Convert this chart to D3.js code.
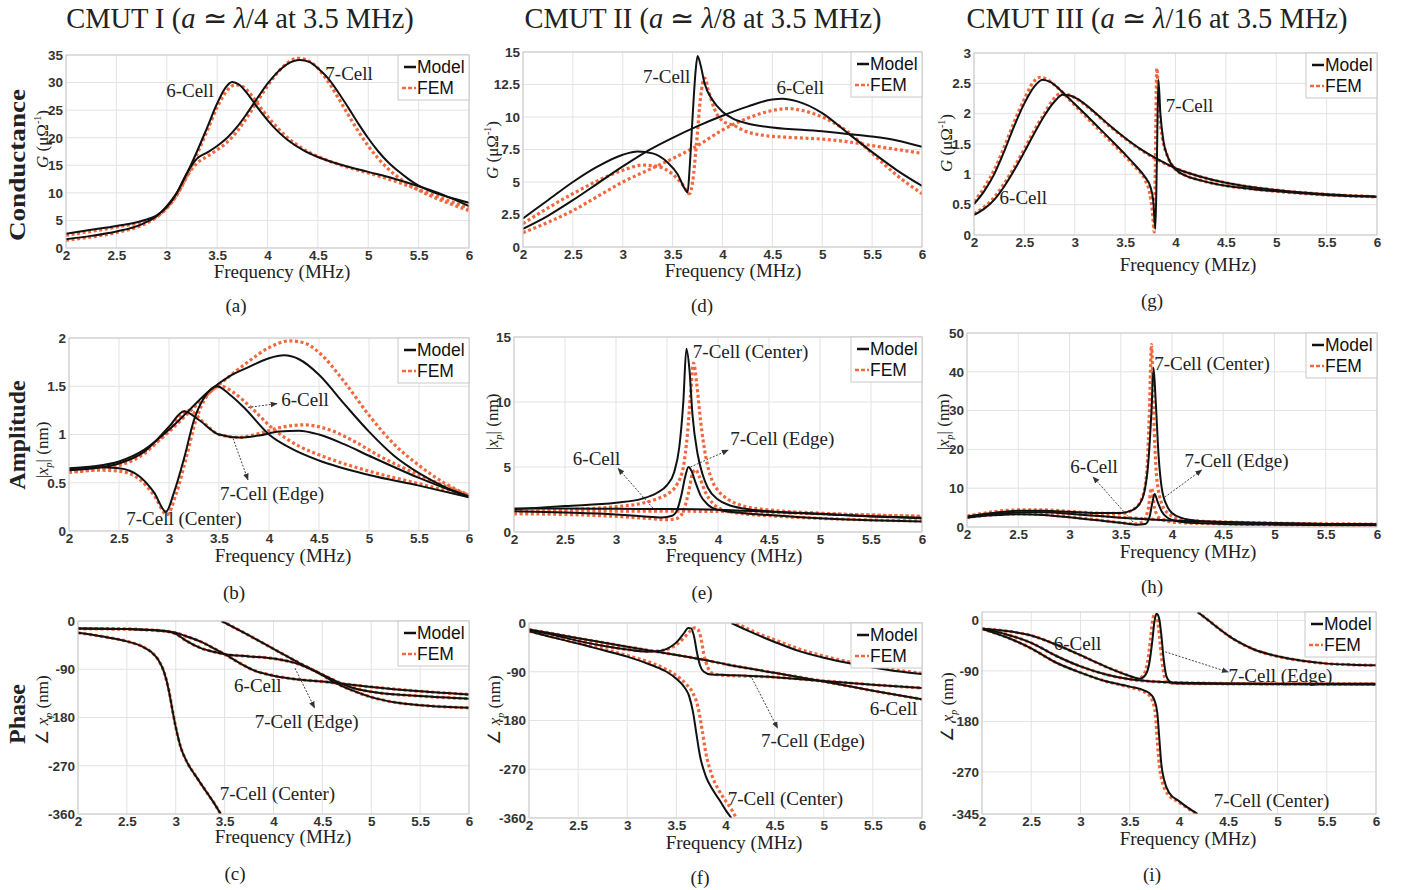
<!DOCTYPE html>
<html>
<head>
<meta charset="utf-8">
<script src="https://cdn.jsdelivr.net/npm/d3@7"></script>
<style>
  body { margin: 0; background: #fff; }
  svg text { font-family: "Liberation Serif", "Times New Roman", serif; }
  .sans { font-family: "Liberation Sans", Arial, sans-serif !important; }
</style>
</head>
<body>
<div id="fig"></div>
<script>
// ---------- data: [frequency (MHz), value] ----------
const freqTicks = [2, 2.5, 3, 3.5, 4, 4.5, 5, 5.5, 6];

// (a) conductance, CMUT I
const gTicksA = [0, 5, 10, 15, 20, 25, 30, 35];
const a_mod6 = [[2,1.6],[2.25,2.2],[2.5,3.0],[2.75,4.3],[2.9,5.8],[3.0,7.6],[3.1,10],[3.2,13.5],[3.3,17.5],[3.4,21.8],[3.5,26.2],[3.58,29],[3.65,30.1],[3.72,29.6],[3.8,28],[3.9,25.5],[4.0,23.2],[4.1,21.2],[4.2,19.6],[4.35,17.8],[4.5,16.5],[4.75,15],[5.0,13.8],[5.25,12.6],[5.5,11.2],[5.75,9.6],[6.0,7.6]];
const a_mod7 = [[2,2.6],[2.25,3.3],[2.5,4.0],[2.75,4.9],[2.9,5.9],[3.0,7.4],[3.1,10],[3.2,13.6],[3.3,16.2],[3.4,17.3],[3.5,18.5],[3.6,20],[3.7,22],[3.8,24.5],[3.9,27.2],[4.0,29.8],[4.1,31.9],[4.2,33.4],[4.32,34.1],[4.42,33.7],[4.5,32.6],[4.6,30.8],[4.7,28.3],[4.8,25.5],[4.9,22.6],[5.0,19.9],[5.1,17.5],[5.2,15.5],[5.3,13.9],[5.4,12.5],[5.5,11.3],[5.65,10.1],[5.8,9.2],[6.0,8.2]];
const a_fem6 = [[2,1.4],[2.25,2.0],[2.5,2.8],[2.75,4.1],[2.9,5.6],[3.0,7.3],[3.1,9.6],[3.2,13],[3.3,17],[3.4,21.2],[3.5,25.5],[3.6,28.6],[3.68,29.6],[3.75,29.3],[3.85,27.5],[3.95,25],[4.05,22.8],[4.2,20],[4.35,18],[4.5,16.6],[4.75,14.9],[5.0,13.6],[5.25,12.2],[5.5,10.6],[5.75,8.9],[6.0,7.2]];
const a_fem7 = [[2,2.3],[2.5,3.8],[2.75,4.7],[2.9,5.7],[3.0,7.2],[3.1,9.6],[3.2,13],[3.3,15.4],[3.4,16.6],[3.5,17.8],[3.6,19.2],[3.7,21.2],[3.8,23.8],[3.9,26.6],[4.0,29.4],[4.1,31.8],[4.2,33.6],[4.3,34.4],[4.4,34],[4.5,32.6],[4.6,30.2],[4.7,27.3],[4.8,24.2],[4.9,21.2],[5.0,18.5],[5.1,16.2],[5.2,14.3],[5.3,12.8],[5.4,11.5],[5.5,10.5],[5.65,9.2],[5.8,8.1],[6.0,6.8]];

// (d) conductance, CMUT II
const gTicksD = [0, 2.5, 5, 7.5, 10, 12.5, 15];
const d_mod6 = [[2,1.4],[2.25,2.4],[2.5,3.6],[2.75,4.9],[3.0,6.2],[3.25,7.4],[3.5,8.4],[3.75,9.3],[4.0,10.1],[4.25,10.8],[4.5,11.35],[4.6,11.4],[4.75,11.2],[5.0,10.3],[5.25,8.8],[5.5,7.3],[5.75,5.9],[6.0,4.7]];
const d_mod7 = [[2,2.2],[2.25,3.6],[2.5,5.0],[2.75,6.2],[3.0,7.1],[3.15,7.35],[3.3,7.2],[3.45,6.5],[3.55,5.6],[3.62,4.5],[3.65,4.2],[3.67,6],[3.7,10],[3.73,13.5],[3.75,14.7],[3.78,14],[3.82,12.6],[3.9,11.3],[4.0,10.4],[4.1,9.9],[4.25,9.5],[4.5,9.2],[5.0,8.9],[5.25,8.7],[5.5,8.5],[5.75,8.2],[6.0,7.7]];
const d_fem6 = [[2,1.1],[2.25,1.9],[2.5,2.8],[2.75,3.9],[3.0,5.0],[3.25,5.9],[3.5,6.8],[3.75,7.8],[4.0,9.0],[4.25,9.9],[4.5,10.5],[4.65,10.65],[4.8,10.5],[5.0,10.0],[5.25,8.9],[5.5,7.2],[5.75,5.5],[6.0,4.1]];
const d_fem7 = [[2,1.8],[2.25,3.0],[2.5,4.1],[2.75,5.1],[3.0,5.9],[3.2,6.3],[3.35,6.2],[3.5,5.6],[3.6,4.8],[3.67,4.1],[3.7,5],[3.74,8],[3.78,11.5],[3.82,13],[3.86,12],[3.92,10.6],[4.0,9.7],[4.05,9.5],[4.1,9.4],[4.2,9.0],[4.4,8.6],[4.75,8.4],[5.0,8.3],[5.25,8.1],[5.5,7.8],[5.75,7.5],[6.0,7.2]];

// (g) conductance, CMUT III
const gTicksG = [0, 0.5, 1, 1.5, 2, 2.5, 3];
const g_mod7 = [[2,0.51],[2.1,0.72],[2.2,1.0],[2.3,1.38],[2.4,1.8],[2.5,2.17],[2.6,2.45],[2.68,2.56],[2.76,2.52],[2.85,2.4],[2.95,2.24],[3.1,2.0],[3.25,1.75],[3.4,1.5],[3.5,1.33],[3.6,1.15],[3.7,0.95],[3.75,0.8],[3.78,0.55],[3.8,0.1],[3.815,1.2],[3.83,2.56],[3.85,2.0],[3.88,1.55],[3.92,1.3],[4.0,1.08],[4.1,0.98],[4.25,0.9],[4.5,0.81],[4.75,0.76],[5.0,0.72],[5.5,0.66],[6.0,0.63]];
const g_mod6 = [[2,0.33],[2.1,0.43],[2.2,0.58],[2.3,0.8],[2.4,1.07],[2.5,1.37],[2.6,1.68],[2.7,1.97],[2.8,2.2],[2.88,2.31],[2.95,2.3],[3.05,2.22],[3.2,2.02],[3.35,1.8],[3.5,1.6],[3.65,1.42],[3.8,1.27],[4.0,1.1],[4.25,0.96],[4.5,0.86],[4.75,0.79],[5.0,0.74],[5.5,0.67],[6.0,0.63]];
const g_fem7 = [[2,0.55],[2.1,0.78],[2.2,1.07],[2.3,1.45],[2.4,1.87],[2.5,2.24],[2.58,2.5],[2.66,2.6],[2.74,2.55],[2.83,2.43],[2.93,2.26],[3.1,1.97],[3.25,1.72],[3.4,1.47],[3.5,1.3],[3.6,1.12],[3.7,0.9],[3.74,0.72],[3.77,0.4],[3.79,0.05],[3.8,1.2],[3.815,2.75],[3.835,2.1],[3.87,1.6],[3.92,1.3],[4.0,1.08],[4.1,0.98],[4.25,0.9],[4.5,0.81],[4.75,0.76],[5.0,0.72],[5.5,0.66],[6.0,0.63]];
const g_fem6 = [[2,0.35],[2.1,0.46],[2.2,0.62],[2.3,0.85],[2.4,1.12],[2.5,1.42],[2.6,1.73],[2.7,2.01],[2.78,2.22],[2.86,2.33],[2.94,2.31],[3.05,2.21],[3.2,2.01],[3.35,1.79],[3.5,1.59],[3.65,1.41],[3.8,1.26],[4.0,1.1],[4.25,0.96],[4.5,0.86],[4.75,0.79],[5.0,0.74],[5.5,0.67],[6.0,0.63]];

// (b) amplitude, CMUT I
const ampTicksB = [0, 0.5, 1, 1.5, 2];
const b_mod6 = [[2,0.65],[2.25,0.67],[2.5,0.72],[2.75,0.84],[3.0,1.05],[3.2,1.25],[3.4,1.45],[3.6,1.6],[3.8,1.7],[4.0,1.79],[4.15,1.82],[4.3,1.78],[4.5,1.62],[4.75,1.32],[5.0,1.03],[5.25,0.78],[5.5,0.6],[5.75,0.46],[6.0,0.36]];
const b_mod7e = [[2,0.63],[2.25,0.65],[2.5,0.7],[2.75,0.82],[3.0,1.08],[3.15,1.24],[3.3,1.15],[3.5,1.0],[3.7,0.97],[3.9,0.99],[4.1,1.03],[4.3,1.04],[4.5,1.0],[4.75,0.9],[5.0,0.78],[5.5,0.55],[6.0,0.35]];
const b_mod7c = [[2,0.64],[2.3,0.66],[2.5,0.65],[2.7,0.57],[2.85,0.4],[2.97,0.2],[3.05,0.4],[3.15,0.75],[3.25,1.15],[3.35,1.38],[3.48,1.5],[3.6,1.42],[3.75,1.28],[4.0,1.0],[4.25,0.84],[4.5,0.73],[5.0,0.58],[5.5,0.47],[6.0,0.35]];
const b_fem6 = [[2,0.61],[2.25,0.64],[2.5,0.7],[2.75,0.82],[3.0,1.03],[3.2,1.23],[3.4,1.43],[3.6,1.6],[3.8,1.76],[4.0,1.9],[4.2,1.97],[4.35,1.95],[4.5,1.85],[4.75,1.55],[5.0,1.2],[5.25,0.9],[5.5,0.68],[5.75,0.5],[6.0,0.37]];
const b_fem7e = [[2,0.61],[2.5,0.68],[2.75,0.8],[3.0,1.05],[3.2,1.25],[3.35,1.12],[3.5,1.0],[3.7,0.97],[3.9,1.01],[4.1,1.07],[4.35,1.1],[4.6,1.05],[4.85,0.93],[5.1,0.78],[5.5,0.58],[6.0,0.37]];
const b_fem7c = [[2,0.62],[2.3,0.63],[2.5,0.62],[2.7,0.54],[2.85,0.37],[2.98,0.17],[3.07,0.38],[3.17,0.75],[3.27,1.15],[3.38,1.4],[3.52,1.5],[3.64,1.44],[3.8,1.3],[4.05,1.05],[4.3,0.88],[4.55,0.77],[5.0,0.62],[5.5,0.49],[6.0,0.36]];

// (e) amplitude, CMUT II
const ampTicksE = [0, 5, 10, 15];
const e_mod7c = [[2,1.75],[2.5,2.0],[3.0,2.25],[3.25,2.55],[3.4,3.0],[3.5,3.6],[3.57,4.6],[3.62,6.5],[3.66,10],[3.69,14.1],[3.72,12.5],[3.75,9],[3.8,6],[3.85,4.4],[3.9,3.4],[4.0,2.5],[4.1,2.1],[4.25,1.8],[4.5,1.6],[5.0,1.4],[5.5,1.2],[6.0,1.05]];
const e_mod7e = [[2,1.6],[2.5,1.5],[3.0,1.35],[3.25,1.22],[3.45,1.12],[3.55,1.25],[3.6,1.7],[3.64,2.8],[3.68,4.3],[3.71,5.0],[3.74,4.7],[3.78,3.8],[3.83,2.8],[3.9,2.1],[4.0,1.7],[4.25,1.45],[4.5,1.3],[5.0,1.05],[5.5,0.9],[6.0,0.8]];
const e_mod6 = [[2,1.8],[2.5,1.8],[3.0,1.78],[3.5,1.77],[4.0,1.72],[4.5,1.55],[5.0,1.38],[5.5,1.22],[6.0,1.1]];
const e_fem7c = [[2,1.5],[2.5,1.7],[3.0,1.95],[3.25,2.2],[3.4,2.55],[3.5,2.9],[3.6,3.7],[3.66,5],[3.7,7.5],[3.73,10.5],[3.76,13],[3.79,11.5],[3.83,8.5],[3.88,5.8],[3.94,4],[4.0,3.2],[4.1,2.5],[4.25,2.0],[4.5,1.7],[5.0,1.45],[5.5,1.3],[6.0,1.2]];
const e_fem7e = [[2,1.4],[2.5,1.35],[3.0,1.2],[3.3,1.05],[3.5,0.95],[3.6,1.05],[3.66,1.6],[3.71,3],[3.75,4.5],[3.78,4.8],[3.82,4.2],[3.88,3.0],[3.95,2.2],[4.05,1.7],[4.25,1.4],[4.5,1.25],[5.0,1.05],[5.5,0.92],[6.0,0.85]];
const e_fem6 = [[2,1.6],[2.5,1.6],[3.0,1.6],[3.5,1.6],[4.0,1.58],[4.5,1.5],[5.0,1.4],[5.5,1.3],[6.0,1.2]];

// (h) amplitude, CMUT III
const ampTicksH = [0, 10, 20, 30, 40, 50];
const h_mod7c = [[2,2.7],[2.25,3.6],[2.5,4.2],[2.75,4.2],[3.0,3.9],[3.25,3.6],[3.5,3.6],[3.6,4.2],[3.68,5.8],[3.73,9],[3.77,17],[3.8,30],[3.82,41],[3.84,33],[3.87,18],[3.9,10],[3.95,5.5],[4.0,3.6],[4.1,2.3],[4.25,1.6],[4.5,1.2],[5.0,0.9],[5.5,0.8],[6.0,0.7]];
const h_mod7e = [[2,2.4],[2.25,3.0],[2.5,3.3],[2.75,3.1],[3.0,2.5],[3.25,1.8],[3.5,1.1],[3.65,0.6],[3.74,0.8],[3.78,2.5],[3.81,6.5],[3.83,8.5],[3.86,6.5],[3.9,4],[3.95,2.5],[4.05,1.5],[4.25,1.0],[4.5,0.8],[5.0,0.6],[6.0,0.45]];
const h_mod6 = [[2,2.6],[2.25,3.3],[2.5,3.75],[2.75,3.8],[3.0,3.4],[3.25,2.9],[3.5,2.4],[3.75,2.0],[4.0,1.7],[4.5,1.3],[5.0,1.0],[5.5,0.8],[6.0,0.65]];
const h_fem7c = [[2,2.8],[2.5,4.4],[2.75,4.4],[3.0,4.0],[3.25,3.6],[3.5,3.5],[3.62,4.5],[3.7,7],[3.75,13],[3.78,30],[3.8,47],[3.82,30],[3.85,13],[3.9,6],[3.95,3.8],[4.0,2.8],[4.1,2.0],[4.25,1.5],[4.5,1.2],[5.0,0.9],[6.0,0.7]];
const h_fem7e = [[2,2.5],[2.5,3.4],[2.75,3.2],[3.0,2.6],[3.25,1.9],[3.5,1.1],[3.65,0.8],[3.72,1.5],[3.77,5],[3.8,10],[3.83,5],[3.87,2.5],[3.95,1.5],[4.1,1.1],[4.5,0.8],[5.0,0.6],[6.0,0.45]];
const h_fem6 = [[2,2.7],[2.5,3.9],[2.75,3.9],[3.0,3.5],[3.5,2.5],[4.0,1.75],[4.5,1.3],[5.0,1.0],[6.0,0.65]];

// (c) phase, CMUT I
const phTicks = [0, -90, -180, -270, -360];
const c_mod7c = [[2,-22],[2.25,-29],[2.5,-38],[2.65,-47],[2.75,-58],[2.82,-72],[2.88,-95],[2.93,-130],[2.97,-170],[3.0,-198],[3.05,-235],[3.12,-265],[3.2,-288],[3.3,-315],[3.4,-342],[3.46,-360]];
const c_mod7cWrap = [[3.47,0],[3.75,-27],[4.0,-52],[4.25,-77],[4.5,-101],[4.6,-112],[4.8,-129],[5.0,-142],[5.25,-152],[5.5,-157],[5.75,-160],[6.0,-162]];
const c_mod6 = [[2,-14],[2.5,-15],[2.75,-17],[2.9,-19],[3.0,-22],[3.1,-28],[3.25,-38],[3.4,-52],[3.5,-62],[3.65,-78],[3.8,-92],[4.0,-102],[4.25,-109],[4.5,-113],[4.75,-118],[5.0,-123],[5.5,-131],[6.0,-137]];
const c_mod7e = [[2,-14],[2.5,-15],[2.75,-17],[2.9,-19],[3.0,-24],[3.1,-36],[3.25,-50],[3.4,-58],[3.5,-62],[3.75,-66],[4.0,-70],[4.25,-80],[4.5,-100],[4.65,-113],[4.8,-124],[5.0,-132],[5.5,-140],[6.0,-145]];
const c_fem7c = c_mod7c, c_fem7cWrap = c_mod7cWrap, c_fem6 = c_mod6, c_fem7e = c_mod7e;

// (f) phase, CMUT II
const f_mod7c = [[2,-15],[2.25,-27],[2.5,-38],[2.75,-50],[3.0,-62],[3.25,-78],[3.4,-90],[3.5,-103],[3.58,-118],[3.63,-135],[3.67,-165],[3.7,-200],[3.74,-245],[3.8,-283],[3.87,-308],[3.95,-330],[4.0,-345],[4.06,-360]];
const f_mod7cWrap = [[4.06,0],[4.25,-16],[4.5,-35],[4.75,-52],[5.0,-64],[5.25,-74],[5.5,-82],[5.75,-89],[6.0,-94]];
const f_mod7e = [[2,-13],[2.25,-22],[2.5,-33],[2.75,-42],[3.0,-49],[3.2,-53],[3.35,-51],[3.45,-43],[3.52,-32],[3.58,-18],[3.62,-9],[3.65,-10],[3.68,-25],[3.71,-55],[3.74,-78],[3.78,-90],[3.85,-95],[4.0,-96],[4.5,-100],[5.0,-107],[5.5,-114],[6.0,-120]];
const f_mod6 = [[2,-12],[2.5,-28],[3.0,-44],[3.5,-59],[3.75,-67],[4.0,-76],[4.5,-92],[5.0,-108],[5.5,-125],[6.0,-141]];
const f_fem7c = [[2,-15],[2.25,-26],[2.5,-37],[2.75,-48],[3.0,-60],[3.25,-74],[3.4,-86],[3.5,-97],[3.6,-113],[3.67,-130],[3.72,-155],[3.76,-195],[3.8,-240],[3.86,-280],[3.93,-308],[4.0,-328],[4.07,-347],[4.11,-360]];
const f_fem7cWrap = [[4.11,0],[4.3,-17],[4.5,-31],[4.75,-48],[5.0,-61],[5.5,-80],[6.0,-93]];
const f_fem7e = [[2,-13],[2.5,-33],[3.0,-49],[3.25,-52],[3.4,-49],[3.5,-40],[3.58,-27],[3.64,-15],[3.69,-9],[3.72,-12],[3.75,-28],[3.78,-58],[3.82,-82],[3.87,-93],[3.95,-96],[4.5,-100],[5.0,-107],[5.5,-114],[6.0,-120]];
const f_fem6 = f_mod6;

// (i) phase, CMUT III
const phTicksI = [0, -90, -180, -270, -345];
const i_mod7c = [[2,-15],[2.25,-30],[2.5,-50],[2.75,-75],[3.0,-93],[3.25,-108],[3.5,-118],[3.65,-125],[3.72,-133],[3.75,-142],[3.78,-165],[3.8,-210],[3.82,-255],[3.85,-285],[3.9,-307],[4.0,-322],[4.1,-335],[4.19,-345]];
const i_mod7cWrap = [[4.19,15],[4.3,0],[4.4,-14],[4.5,-27],[4.6,-38],[4.75,-51],[5.0,-64],[5.25,-72],[5.5,-77],[5.75,-79],[6.0,-80]];
const i_mod7e = [[2,-15],[2.25,-19],[2.5,-27],[2.75,-43],[3.0,-62],[3.25,-82],[3.5,-99],[3.6,-104],[3.66,-97],[3.7,-75],[3.73,-35],[3.75,-3],[3.775,12],[3.8,2],[3.82,-25],[3.845,-70],[3.87,-98],[3.9,-108],[3.95,-112],[4.5,-113],[6.0,-114]];
const i_mod6 = [[2,-15],[2.25,-25],[2.5,-40],[2.75,-63],[3.0,-82],[3.25,-96],[3.5,-105],[3.75,-109],[4.0,-111],[5.0,-113],[6.0,-113]];
const i_fem7c = [[2,-15],[2.25,-30],[2.5,-50],[2.75,-75],[3.0,-93],[3.25,-108],[3.5,-119],[3.63,-126],[3.7,-134],[3.73,-143],[3.76,-168],[3.78,-215],[3.8,-258],[3.83,-287],[3.88,-308],[4.0,-324],[4.1,-336],[4.18,-345]];
const i_fem7cWrap = i_mod7cWrap;
const i_fem7e = [[2,-15],[2.25,-19],[2.5,-27],[2.75,-43],[3.0,-62],[3.25,-82],[3.5,-99],[3.58,-104],[3.64,-97],[3.68,-75],[3.71,-35],[3.73,-3],[3.755,12],[3.78,2],[3.8,-25],[3.825,-70],[3.85,-98],[3.88,-108],[3.93,-112],[4.5,-113],[6.0,-114]];
const i_fem6 = i_mod6;

// annotations: [text, freq, value] and arrows [f0, v0, f1, v1]
const annA = [["6-Cell",3.23,27.4],["7-Cell",4.81,30.5]];
const annD = [["7-Cell",3.44,12.6],["6-Cell",4.78,11.8]];
const annG = [["7-Cell",4.14,2.03],["6-Cell",2.49,0.51]];
const annB = [["6-Cell",4.36,1.30],["7-Cell (Edge)",4.03,0.32],["7-Cell (Center)",3.15,0.06]];
const arrB = [[3.79,1.28,4.08,1.32],[3.64,0.96,3.79,0.53]];
const annE = [["7-Cell (Center)",4.32,13.4],["7-Cell (Edge)",4.63,6.7],["6-Cell",2.81,5.15]];
const arrE = [[3.73,5.0,4.10,6.3],[3.36,1.85,3.02,4.9]];
const annH = [["7-Cell (Center)",4.39,40.5],["7-Cell (Edge)",4.63,15.5],["6-Cell",3.24,13.9]];
const arrH = [[3.93,7.7,4.29,14.7],[3.62,1.3,3.23,12.9]];
const annC = [["6-Cell",3.84,-132],["7-Cell (Edge)",4.34,-200],["7-Cell (Center)",4.04,-334]];
const arrC = [[4.22,-88,4.42,-162]];
const annF = [["7-Cell (Edge)",4.89,-229],["7-Cell (Center)",4.61,-336],["6-Cell",5.71,-170]];
const arrF = [[4.27,-102,4.53,-194]];
const annI = [["6-Cell",2.97,-53],["7-Cell (Edge)",5.03,-110],["7-Cell (Center)",4.94,-333]];
const arrI = [[3.86,-56,4.50,-92]];

const titles = ["CMUT I", "CMUT II", "CMUT III"];
const titleFrac = ["4", "8", "16"];
const rowNames = ["Conductance", "Amplitude", "Phase"];

// ---------- layout ----------
const W = 1405, H = 890;
const MODEL = "#111", FEM = "#f2683e";

const panels = [
  {sub:"(a)", box:[66,55,469,248], y:[0,35], yt:gTicksA, mod:[a_mod6,a_mod7], fem:[a_fem6,a_fem7], ann:annA, arr:[], yl:"G", ylx:42, yly:139, xly:278, xlx:282, subp:[236,305]},
  {sub:"(d)", box:[523,52,922,247], y:[0,15], yt:gTicksD, mod:[d_mod6,d_mod7], fem:[d_fem6,d_fem7], ann:annD, arr:[], yl:"G", ylx:492, yly:150, xly:277, xlx:733, subp:[702,305]},
  {sub:"(g)", box:[974,53,1377,235], y:[0,3], yt:gTicksG, mod:[g_mod6,g_mod7], fem:[g_fem6,g_fem7], ann:annG, arr:[], yl:"G", ylx:946, yly:143, xly:271, xlx:1188, subp:[1152,300]},
  {sub:"(b)", box:[69,338,469,531], y:[0,2], yt:ampTicksB, mod:[b_mod6,b_mod7e,b_mod7c], fem:[b_fem6,b_fem7e,b_fem7c], ann:annB, arr:arrB, yl:"amp", ylx:42, yly:450, xly:562, xlx:283, subp:[234,592]},
  {sub:"(e)", box:[514,337,922,532], y:[0,15], yt:ampTicksE, mod:[e_mod6,e_mod7e,e_mod7c], fem:[e_fem6,e_fem7e,e_fem7c], ann:annE, arr:arrE, yl:"amp", ylx:492, yly:422, xly:562, xlx:734, subp:[702,592]},
  {sub:"(h)", box:[967,333,1377,527], y:[0,50], yt:ampTicksH, mod:[h_mod6,h_mod7e,h_mod7c], fem:[h_fem6,h_fem7e,h_fem7c], ann:annH, arr:arrH, yl:"amp", ylx:943, yly:422, xly:558, xlx:1188, subp:[1152,586]},
  {sub:"(c)", box:[78,621,469,814], y:[-360,0], yt:phTicks, mod:[c_mod6,c_mod7e,c_mod7c,c_mod7cWrap], fem:[c_fem6,c_fem7e,c_fem7c,c_fem7cWrap], ann:annC, arr:arrC, yl:"ph", ylx:42, yly:710, xly:843, xlx:283, subp:[235,873]},
  {sub:"(f)", box:[529,623,922,818], y:[-360,0], yt:phTicks, mod:[f_mod6,f_mod7e,f_mod7c,f_mod7cWrap], fem:[f_fem6,f_fem7e,f_fem7c,f_fem7cWrap], ann:annF, arr:arrF, yl:"ph", ylx:494, yly:710, xly:849, xlx:734, subp:[700,877]},
  {sub:"(i)", box:[982,612,1376,814], y:[-345,15], yt:phTicksI, mod:[i_mod6,i_mod7e,i_mod7c,i_mod7cWrap], fem:[i_fem6,i_fem7e,i_fem7c,i_fem7cWrap], ann:annI, arr:arrI, yl:"ph", ylx:947, yly:707, xly:845, xlx:1188, subp:[1152,874]}
];

const svg = d3.select("#fig").append("svg")
  .attr("width", W).attr("height", H)
  .style("background", "#fff");

const defs = svg.append("defs");
defs.append("marker")
  .attr("id", "ah").attr("viewBox", "0 0 10 10")
  .attr("refX", 9).attr("refY", 5)
  .attr("markerWidth", 7).attr("markerHeight", 7)
  .attr("orient", "auto")
  .append("path").attr("d", "M0,1L10,5L0,9z").attr("fill", "#333");

// column titles
const titleX = [240, 703, 1157];
titles.forEach((t, i) => {
  const tx = svg.append("text")
    .attr("x", titleX[i]).attr("y", 28)
    .attr("text-anchor", "middle")
    .attr("font-size", 28.5).attr("fill", "#222");
  tx.append("tspan").text(t + " (");
  tx.append("tspan").attr("font-style", "italic").text("a");
  tx.append("tspan").text(" \u2243 ");
  tx.append("tspan").attr("font-style", "italic").text("\u03bb");
  tx.append("tspan").text("/" + titleFrac[i] + " at 3.5 MHz)");
});

// row names
const rowY = [165, 435, 714];
const rowLen = [152, 0, 0];
rowNames.forEach((r, i) => {
  const t = svg.append("text")
    .attr("transform", `translate(25,${rowY[i]}) rotate(-90)`)
    .attr("text-anchor", "middle")
    .attr("font-size", 24).attr("font-weight", "bold").attr("fill", "#222")
    .text(r);
  if (rowLen[i]) t.attr("textLength", rowLen[i]).attr("lengthAdjust", "spacingAndGlyphs");
});

panels.forEach((p, pi) => {
  const [x0, y0, x1, y1] = p.box;
  const x = d3.scaleLinear().domain([2, 6]).range([x0, x1]);
  const y = d3.scaleLinear().domain(p.y).range([y1, y0]);
  const g = svg.append("g");

  // background + grid
  g.append("rect").attr("x", x0).attr("y", y0)
    .attr("width", x1 - x0).attr("height", y1 - y0).attr("fill", "#fff");
  g.append("g").selectAll("line").data(freqTicks).join("line")
    .attr("x1", d => x(d)).attr("x2", d => x(d))
    .attr("y1", y0).attr("y2", y1)
    .attr("stroke", "#e3e3e3").attr("stroke-width", 1);
  g.append("g").selectAll("line").data(p.yt).join("line")
    .attr("x1", x0).attr("x2", x1)
    .attr("y1", d => y(d)).attr("y2", d => y(d))
    .attr("stroke", "#e3e3e3").attr("stroke-width", 1);

  // axes (labels only, MATLAB-ish box)
  const fmt = d => String(d);
  const xa = g.append("g").attr("transform", `translate(0,${y1})`)
    .call(d3.axisBottom(x).tickValues(freqTicks).tickSize(0).tickPadding(2).tickFormat(fmt));
  const ya = g.append("g").attr("transform", `translate(${x0},0)`)
    .call(d3.axisLeft(y).tickValues(p.yt).tickSize(0).tickPadding(3).tickFormat(fmt));
  [xa, ya].forEach(a => {
    a.select(".domain").remove();
    a.selectAll("text").attr("class", "sans")
      .attr("font-size", 13.5).attr("fill", "#333").attr("font-weight", "bold");
  });

  // clip
  const cid = "clip" + pi;
  defs.append("clipPath").attr("id", cid)
    .append("rect").attr("x", x0).attr("y", y0)
    .attr("width", x1 - x0).attr("height", y1 - y0);

  const line = d3.line().x(d => x(d[0])).y(d => y(d[1])).curve(d3.curveMonotoneX);
  const plot = g.append("g").attr("clip-path", `url(#${cid})`);
  plot.selectAll("path.fem").data(p.fem).join("path")
    .attr("class", "fem")
    .attr("d", line).attr("fill", "none")
    .attr("stroke", FEM).attr("stroke-width", 3.2)
    .attr("stroke-dasharray", "3,2.6");
  plot.selectAll("path.mod").data(p.mod).join("path")
    .attr("class", "mod")
    .attr("d", line).attr("fill", "none")
    .attr("stroke", MODEL).attr("stroke-width", 2);

  // frame
  g.append("rect").attr("x", x0).attr("y", y0)
    .attr("width", x1 - x0).attr("height", y1 - y0)
    .attr("fill", "none").attr("stroke", "#c9c9c9").attr("stroke-width", 1);

  // arrows
  g.selectAll("line.arr").data(p.arr).join("line")
    .attr("class", "arr")
    .attr("x1", d => x(d[0])).attr("y1", d => y(d[1]))
    .attr("x2", d => x(d[2])).attr("y2", d => y(d[3]))
    .attr("stroke", "#444").attr("stroke-width", 1)
    .attr("stroke-dasharray", "2,1.5")
    .attr("marker-end", "url(#ah)");

  // curve annotations
  g.selectAll("text.ann").data(p.ann).join("text")
    .attr("class", "ann")
    .attr("x", d => x(d[1])).attr("y", d => y(d[2]))
    .attr("text-anchor", "middle")
    .attr("font-size", 19).attr("fill", "#222")
    .text(d => d[0]);

  // legend
  const lx = x1 - 71, ly = y0;
  const lg = g.append("g");
  lg.append("rect").attr("x", lx).attr("y", ly).attr("width", 71).attr("height", 45)
    .attr("fill", "#fff").attr("stroke", "#c9c9c9");
  lg.append("line").attr("x1", lx + 6).attr("x2", lx + 18)
    .attr("y1", ly + 12).attr("y2", ly + 12)
    .attr("stroke", MODEL).attr("stroke-width", 2.5);
  lg.append("line").attr("x1", lx + 4).attr("x2", lx + 18)
    .attr("y1", ly + 33).attr("y2", ly + 33)
    .attr("stroke", FEM).attr("stroke-width", 2.5).attr("stroke-dasharray", "4,2");
  lg.append("text").attr("class", "sans").attr("x", lx + 19).attr("y", ly + 18)
    .attr("font-size", 17.5).attr("fill", "#111").text("Model");
  lg.append("text").attr("class", "sans").attr("x", lx + 19).attr("y", ly + 39)
    .attr("font-size", 17.5).attr("fill", "#111").text("FEM");

  // x label
  g.append("text").attr("x", p.xlx).attr("y", p.xly)
    .attr("text-anchor", "middle").attr("font-size", 19).attr("fill", "#222")
    .text("Frequency (MHz)");

  // y label
  const yl = g.append("text")
    .attr("transform", `translate(${p.ylx + 6},${p.yly}) rotate(-90)`)
    .attr("text-anchor", "middle").attr("font-size", 17).attr("fill", "#222");
  if (p.yl === "G") {
    yl.append("tspan").attr("font-style", "italic").text("G");
    yl.append("tspan").text(" (\u03bc\u03a9");
    yl.append("tspan").attr("font-size", 10).attr("dy", -7).text("-1");
    yl.append("tspan").attr("dy", 7).text(")");
  } else if (p.yl === "amp") {
    yl.append("tspan").text("|");
    yl.append("tspan").attr("font-style", "italic").text("x");
    yl.append("tspan").attr("font-style", "italic").attr("font-size", 10).attr("dy", 4).text("p");
    yl.append("tspan").attr("dy", -4).text("| (nm)");
  } else {
    yl.append("tspan").text("\u2220 ");
    yl.append("tspan").attr("font-style", "italic").text("x");
    yl.append("tspan").attr("font-style", "italic").attr("font-size", 10).attr("dy", 4).text("p");
    yl.append("tspan").attr("dy", -4).text(" (nm)");
  }

  // sub caption
  g.append("text").attr("x", p.subp[0]).attr("y", p.subp[1])
    .attr("dy", "0.35em").attr("text-anchor", "middle")
    .attr("font-size", 19).attr("fill", "#222").text(p.sub);
});
</script>
</body>
</html>
